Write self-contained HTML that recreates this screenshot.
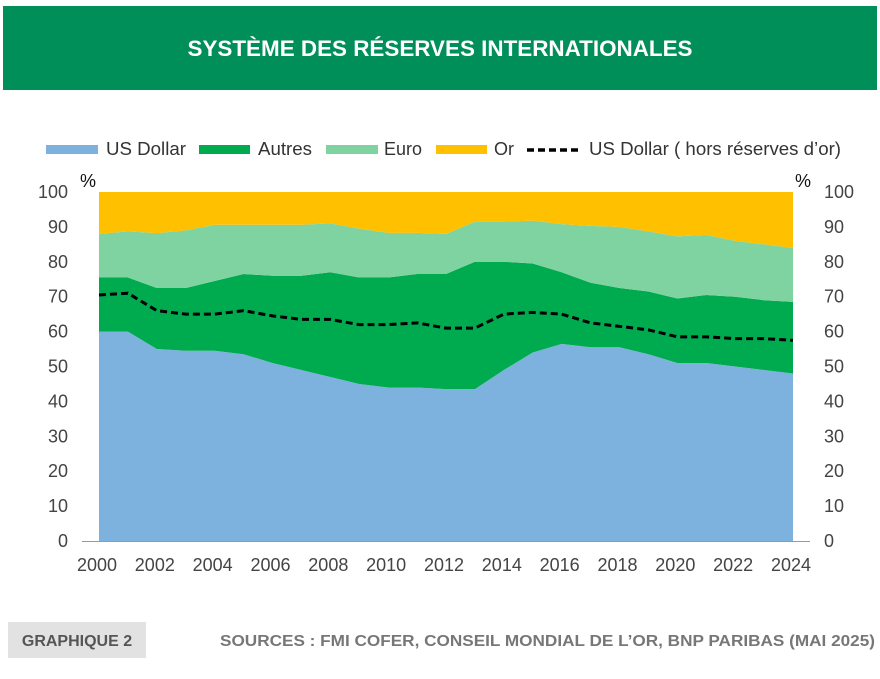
<!DOCTYPE html>
<html><head><meta charset="utf-8"><style>
body{margin:0;background:#fff;width:880px;height:674px;overflow:hidden;font-family:"Liberation Sans",sans-serif;}
svg text{font-family:"Liberation Sans",sans-serif;}
</style></head><body>
<svg id="chart" width="880" height="674" xmlns="http://www.w3.org/2000/svg">
<rect x="3" y="6" width="874" height="84" fill="#008F58"/>
<text x="440" y="56" text-anchor="middle" fill="#fff" font-size="22" font-weight="bold" textLength="505" lengthAdjust="spacingAndGlyphs">SYSTÈME DES RÉSERVES INTERNATIONALES</text>
<g id="legend" font-size="18" fill="#333">
<rect x="46" y="145" width="52" height="9" fill="#7EB2DE"/>
<text x="106" y="155" fill="#333" textLength="80" lengthAdjust="spacingAndGlyphs">US Dollar</text>
<rect x="199" y="145" width="51" height="9" fill="#00AA4F"/>
<text x="258" y="155" fill="#333" textLength="54" lengthAdjust="spacingAndGlyphs">Autres</text>
<rect x="326" y="145" width="52" height="9" fill="#7FD3A0"/>
<text x="384" y="155" fill="#333" textLength="38" lengthAdjust="spacingAndGlyphs">Euro</text>
<rect x="436" y="145" width="51" height="9" fill="#FFC000"/>
<text x="494" y="155" fill="#333">Or</text>
<line x1="527" y1="150" x2="582" y2="150" stroke="#000" stroke-width="3.5" stroke-dasharray="7,4"/>
<text x="589" y="155" fill="#333" textLength="252" lengthAdjust="spacingAndGlyphs">US Dollar ( hors réserves d’or)</text>
</g>
<g id="plot"></g>
<g id="axes" font-size="18" fill="#444"></g>
<text x="88" y="187" font-size="18" fill="#111" text-anchor="middle">%</text>
<text x="803" y="187" font-size="18" fill="#111" text-anchor="middle">%</text>
<rect x="8" y="622" width="138" height="36" fill="#E2E2E2"/>
<text x="77" y="646" text-anchor="middle" font-size="16" font-weight="bold" fill="#555">GRAPHIQUE 2</text>
<text x="875" y="646" text-anchor="end" font-size="16" font-weight="bold" fill="#777" textLength="655" lengthAdjust="spacingAndGlyphs">SOURCES : FMI COFER, CONSEIL MONDIAL DE L’OR, BNP PARIBAS (MAI 2025)</text>
</svg>
<script>
const years=[2000,2001,2002,2003,2004,2005,2006,2007,2008,2009,2010,2011,2012,2013,2014,2015,2016,2017,2018,2019,2020,2021,2022,2023,2024];
const usd=[60,60,55,54.5,54.5,53.5,51,49,47,45,44,44,43.5,43.5,49,54,56.5,55.5,55.5,53.5,51,51,50,49,48];
const autres=[15.5,15.5,17.5,18,20,23,25,27,30,30.5,31.5,32.5,33,36.5,31,25.5,20.5,18.5,17,18,18.5,19.5,20,20,20.5];
const euro=[12.5,13.2,15.7,16.5,16.1,14.1,14.6,14.6,14,14,12.8,11.8,11.5,11.5,11.5,12.3,13.8,16.3,17.5,17.2,17.8,17.2,16,16,15.5];
const gold=[12,11.3,11.8,11,9.4,9.4,9.4,9.4,9,10.5,11.7,11.7,12,8.5,8.5,8.2,9.2,9.7,10,11.3,12.7,12.3,14,15,16];
const usdExGold=[70.5,71,66,65,65,66,64.5,63.5,63.5,62,62,62.5,61,61,65,65.5,65,62.5,61.5,60.5,58.5,58.5,58,58,57.5];
const yTicks=[0,10,20,30,40,50,60,70,80,90,100];
const xTicks=[2000,2002,2004,2006,2008,2010,2012,2014,2016,2018,2020,2022,2024];
const NS="http://www.w3.org/2000/svg";
const x=y=>99+(y-2000)*(793-99)/24;
const yS=v=>541-v*3.49;
const plot=document.getElementById('plot'),axes=document.getElementById('axes');
const series=[[usd,'#7EB2DE','area-usd'],[autres,'#00AA4F','area-autres'],[euro,'#7FD3A0','area-euro'],[gold,'#FFC000','area-or']];
let base=years.map(()=>0);
series.forEach(([vals,col,name])=>{
  const top=base.map((b,i)=>b+vals[i]);
  let d='M'+years.map((yr,i)=>x(yr)+','+yS(top[i])).join('L');
  for(let i=years.length-1;i>=0;i--)d+='L'+x(years[i])+','+yS(base[i]);
  const p=document.createElementNS(NS,'path');
  p.setAttribute('d',d+'Z');p.setAttribute('fill',col);
  
  
  plot.appendChild(p);base=top;
});
const ln=document.createElementNS(NS,'polyline');
ln.setAttribute('points',years.map((yr,i)=>x(yr)+','+yS(usdExGold[i])).join(' '));
ln.setAttribute('fill','none');ln.setAttribute('stroke','#000');ln.setAttribute('stroke-width','3');ln.setAttribute('stroke-dasharray','7,4');


plot.appendChild(ln);
const ax=document.createElementNS(NS,'line');
ax.setAttribute('x1',82);ax.setAttribute('x2',810);ax.setAttribute('y1',541.5);ax.setAttribute('y2',541.5);ax.setAttribute('stroke','#999');


axes.appendChild(ax);
yTicks.forEach(v=>{
  const t=document.createElementNS(NS,'text');
  t.setAttribute('x',68);t.setAttribute('y',yS(v)+6);t.setAttribute('text-anchor','end');t.textContent=v;
  
  
  axes.appendChild(t);
  const r=document.createElementNS(NS,'text');
  r.setAttribute('x',824);r.setAttribute('y',yS(v)+6);r.textContent=v;
  
  
  axes.appendChild(r);
});
xTicks.forEach(yr=>{
  const t=document.createElementNS(NS,'text');
  t.setAttribute('x',x(yr)-2);t.setAttribute('y',571);t.setAttribute('text-anchor','middle');t.textContent=yr;
  
  
  axes.appendChild(t);
});
</script>
</body></html>
